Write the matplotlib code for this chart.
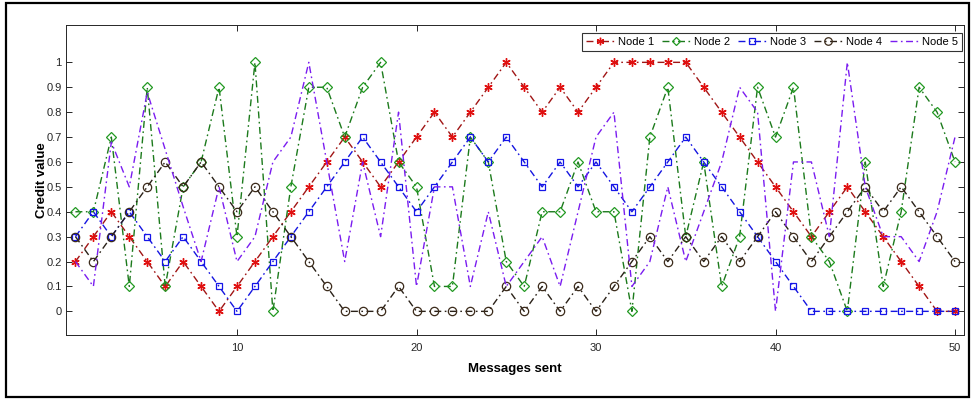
import matplotlib
matplotlib.use("Agg")
import matplotlib.pyplot as plt
from matplotlib.patches import Rectangle
import numpy as np

plt.rcParams['font.family'] = ['Liberation Sans', 'DejaVu Sans']

messages = list(range(1, 51))

node1 = [0.2, 0.3, 0.4, 0.3, 0.2, 0.1, 0.2, 0.1, 0.0, 0.1,
         0.2, 0.3, 0.4, 0.5, 0.6, 0.7, 0.6, 0.5, 0.6, 0.7,
         0.8, 0.7, 0.8, 0.9, 1.0, 0.9, 0.8, 0.9, 0.8, 0.9,
         1.0, 1.0, 1.0, 1.0, 1.0, 0.9, 0.8, 0.7, 0.6, 0.5,
         0.4, 0.3, 0.4, 0.5, 0.4, 0.3, 0.2, 0.1, 0.0, 0.0]

node2 = [0.4, 0.4, 0.7, 0.1, 0.9, 0.1, 0.5, 0.6, 0.9, 0.3,
         1.0, 0.0, 0.5, 0.9, 0.9, 0.7, 0.9, 1.0, 0.6, 0.5,
         0.1, 0.1, 0.7, 0.6, 0.2, 0.1, 0.4, 0.4, 0.6, 0.4,
         0.4, 0.0, 0.7, 0.9, 0.3, 0.6, 0.1, 0.3, 0.9, 0.7,
         0.9, 0.3, 0.2, 0.0, 0.6, 0.1, 0.4, 0.9, 0.8, 0.6]

node3 = [0.3, 0.4, 0.3, 0.4, 0.3, 0.2, 0.3, 0.2, 0.1, 0.0,
         0.1, 0.2, 0.3, 0.4, 0.5, 0.6, 0.7, 0.6, 0.5, 0.4,
         0.5, 0.6, 0.7, 0.6, 0.7, 0.6, 0.5, 0.6, 0.5, 0.6,
         0.5, 0.4, 0.5, 0.6, 0.7, 0.6, 0.5, 0.4, 0.3, 0.2,
         0.1, 0.0, 0.0, 0.0, 0.0, 0.0, 0.0, 0.0, 0.0, 0.0]

node4 = [0.3, 0.2, 0.3, 0.4, 0.5, 0.6, 0.5, 0.6, 0.5, 0.4,
         0.5, 0.4, 0.3, 0.2, 0.1, 0.0, 0.0, 0.0, 0.1, 0.0,
         0.0, 0.0, 0.0, 0.0, 0.1, 0.0, 0.1, 0.0, 0.1, 0.0,
         0.1, 0.2, 0.3, 0.2, 0.3, 0.2, 0.3, 0.2, 0.3, 0.4,
         0.3, 0.2, 0.3, 0.4, 0.5, 0.4, 0.5, 0.4, 0.3, 0.2]

node5 = [0.2, 0.1, 0.68, 0.5, 0.88, 0.65, 0.42, 0.2, 0.5, 0.2,
         0.3, 0.6, 0.7, 1.0, 0.6, 0.2, 0.6, 0.3, 0.8, 0.1,
         0.5, 0.5, 0.1, 0.4, 0.1, 0.2, 0.3, 0.1, 0.4, 0.7,
         0.8, 0.1, 0.2, 0.5, 0.2, 0.4, 0.6, 0.9, 0.8, 0.0,
         0.6, 0.6, 0.3, 1.0, 0.5, 0.3, 0.3, 0.2, 0.4, 0.7]

labels = ["Node 1", "Node 2", "Node 3", "Node 4", "Node 5"]
yticks = [0, 0.1, 0.2, 0.3, 0.4, 0.5, 0.6, 0.7, 0.8, 0.9, 1]
ytick_labels = ["0", "0.1", "0.2", "0.3", "0.4", "0.5", "0.6", "0.7", "0.8", "0.9", "1"]
xticks = [10, 20, 30, 40, 50]

fig = plt.figure(figsize=(9.76, 4.0), dpi=100)
ax = fig.add_axes([0.0681, 0.1625, 0.9196, 0.775])

ms = 6
dash = (5, 2.5, 1.2, 2.5)
ax.plot(messages, node1, linestyle=(0, dash), color='#A01515', lw=1.0,
        marker=(6, 2, 0), ms=ms, mec='#E01010', mew=1.0, label=labels[0])
ax.plot(messages, node2, linestyle=(0, dash), color='#1C7A1C', lw=1.0,
        marker='D', ms=5, mfc='none', mec='#229922', mew=0.9, label=labels[1])
ax.plot(messages, node3, linestyle=(0, dash), color='#1515E0', lw=1.0,
        marker='s', ms=5, mfc='none', mec='#1515E8', mew=0.9, label=labels[2])
ax.plot(messages, node4, linestyle=(0, dash), color='#2A2118', lw=1.0,
        marker='o', ms=6, mfc='none', mec='#3B2A1A', mew=0.9, label=labels[3])
ax.plot(messages, node5, linestyle=(0, dash), color='#7A1CF0', lw=1.0,
        label=labels[4])

ax.set_xlim(0.5, 50.5)
ax.set_ylim(-0.095, 1.15)
ax.set_yticks(yticks)
ax.set_yticklabels(ytick_labels)
ax.set_xticks(xticks)
ax.tick_params(direction='in', top=True, right=True, length=4, width=0.7,
               labelsize=8, colors='#262626')
ax.tick_params(axis='x', pad=6)
for s in ax.spines.values():
    s.set_linewidth(0.7)
    s.set_color('#262626')

ax.set_xlabel("Messages sent", fontsize=9.5, fontweight='bold', labelpad=7)
ax.set_ylabel("Credit value", fontsize=9.5, fontweight='bold', labelpad=-1)

leg = ax.legend(loc='upper right', bbox_to_anchor=(0.9978, 0.974), ncol=5,
                fontsize=8, frameon=True, fancybox=False, borderaxespad=0,
                handlelength=2.6, handletextpad=0.3, columnspacing=0.7,
                borderpad=0.35, markerscale=0.9)
leg.get_frame().set_edgecolor('#000000')
leg.get_frame().set_linewidth(0.8)

fig.patches.append(Rectangle((0.006, 0.008), 0.987, 0.984, transform=fig.transFigure,
                             fill=False, edgecolor='black', lw=1.6))

fig.savefig("out.png", dpi=100)
